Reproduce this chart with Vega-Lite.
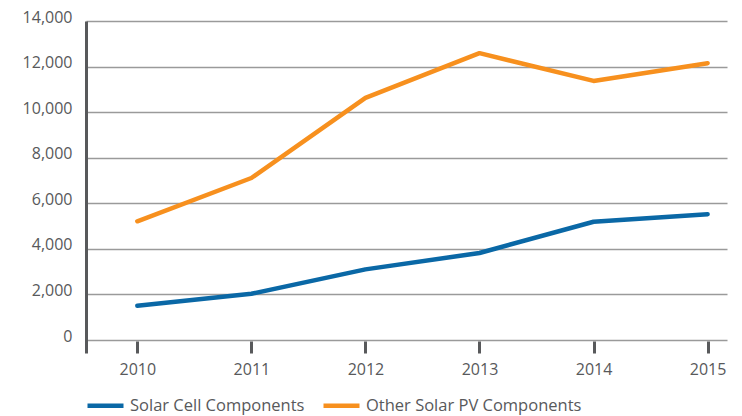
{
  "$schema": "https://vega.github.io/schema/vega-lite/v6.json",
  "width": 641,
  "height": 332,
  "autosize": {"type": "none"},
  "padding": {"left": 86, "top": 21, "right": 15, "bottom": 63},
  "background": "#ffffff",
  "config": {
    "view": {"stroke": null},
    "font": "Open Sans",
    "axis": {"labelFont": "Open Sans", "labelFontSize": 16, "labelColor": "#58595b"},
    "legend": {"labelFont": "Open Sans", "labelFontSize": 16.5, "labelColor": "#58595b", "labelLimit": 400}
  },
  "datasets": {
    "series": [
      {"year": 2010, "series": "Solar Cell Components", "value": 1500},
      {"year": 2011, "series": "Solar Cell Components", "value": 2030},
      {"year": 2012, "series": "Solar Cell Components", "value": 3100},
      {"year": 2013, "series": "Solar Cell Components", "value": 3820},
      {"year": 2014, "series": "Solar Cell Components", "value": 5190},
      {"year": 2015, "series": "Solar Cell Components", "value": 5520},
      {"year": 2010, "series": "Other Solar PV Components", "value": 5210},
      {"year": 2011, "series": "Other Solar PV Components", "value": 7110},
      {"year": 2012, "series": "Other Solar PV Components", "value": 10630},
      {"year": 2013, "series": "Other Solar PV Components", "value": 12590},
      {"year": 2014, "series": "Other Solar PV Components", "value": 11370},
      {"year": 2015, "series": "Other Solar PV Components", "value": 12150}
    ]
  },
  "layer": [
    {
      "data": {"name": "series"},
      "mark": {"type": "line", "strokeWidth": 4.5, "strokeCap": "round", "strokeJoin": "round"},
      "encoding": {
        "x": {
          "field": "year", "type": "quantitative",
          "scale": {"domain": [2009.55, 2015.17], "nice": false, "zero": false},
          "axis": {
            "title": null, "values": [2010, 2011, 2012, 2013, 2014, 2015], "format": "d",
            "grid": false, "domain": false, "ticks": true, "tickSize": -12, "tickWidth": 3,
            "tickColor": "#58595b", "labelPadding": 20, "labelFlush": false
          }
        },
        "y": {
          "field": "value", "type": "quantitative",
          "scale": {"domain": [-570, 14000], "nice": false, "zero": false},
          "axis": {
            "title": null, "values": [0, 2000, 4000, 6000, 8000, 10000, 12000, 14000], "format": ",.0f",
            "grid": true, "gridColor": "#9a9a9a", "gridWidth": 1.5, "gridOpacity": 1,
            "domain": true, "domainColor": "#58595b", "domainWidth": 3,
            "ticks": false, "labelPadding": 14, "labelBaseline": "alphabetic", "labelOffset": 1
          }
        },
        "color": {
          "field": "series", "type": "nominal",
          "sort": ["Solar Cell Components", "Other Solar PV Components"],
          "scale": {"domain": ["Solar Cell Components", "Other Solar PV Components"], "range": ["#0a68a6", "#f7901e"]},
          "legend": {
            "title": null, "orient": "none", "direction": "horizontal",
            "legendX": -1, "legendY": 364, "padding": 0, "labelLimit": 400,
            "symbolType": "stroke", "symbolSize": 1296, "symbolStrokeWidth": 4.5,
            "symbolOffset": 0, "labelOffset": 4, "columnPadding": 9
          }
        }
      }
    },
    {
      "mark": {"type": "rule", "color": "#58595b", "strokeWidth": 3},
      "encoding": {"y": {"datum": 0}}
    }
  ]
}
